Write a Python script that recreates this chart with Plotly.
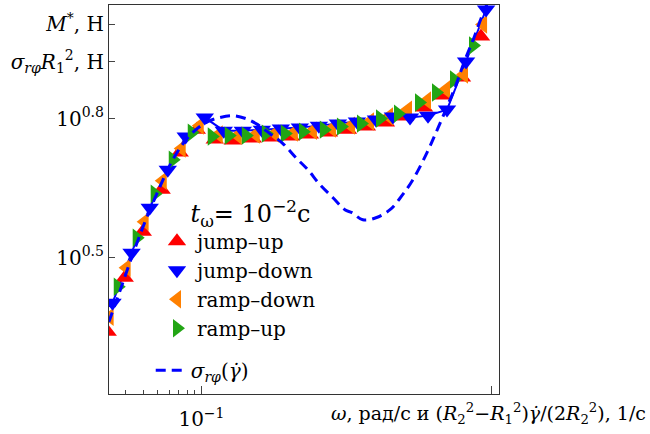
import plotly.graph_objects as go

# --- Daten ---
# jump-up
ju_x = [0.0226, 0.0296, 0.0394, 0.0532, 0.0708, 0.0929, 0.1235, 0.1643, 0.2259, 0.3054, 0.4126,
        0.5585, 0.7551, 1.021, 1.380, 1.866, 2.524, 3.415, 4.613, 6.237, 8.433]
ju_y = [2.188, 2.862, 3.596, 4.433, 5.330, 5.973, 5.685, 5.657, 5.713, 5.741, 5.770,
        5.827, 5.885, 5.973, 6.063, 6.185, 6.373, 6.664, 7.075, 7.737, 9.487]

# jump-down
jd_x = [0.0244, 0.0330, 0.0440, 0.0586, 0.0779, 0.1054, 0.1425, 0.1926, 0.2605, 0.3524, 0.4764,
        0.6442, 0.8710, 1.178, 1.592, 2.085, 2.735, 3.639, 4.920, 6.653, 9.141]
jd_y = [2.527, 3.241, 4.053, 4.895, 5.770, 6.342, 5.943, 5.943, 5.973, 6.003, 6.033,
        6.093, 6.154, 6.216, 6.278, 6.373, 6.342, 6.403, 6.597, 8.378, 10.85]

# ramp-down
rd_x = [0.0233, 0.0305, 0.0406, 0.0541, 0.0731, 0.0973, 0.1316, 0.1778, 0.2368, 0.3206, 0.4331,
        0.5861, 0.7925, 1.072, 1.449, 1.959, 2.649, 3.581, 4.842, 6.442, 8.710]
rd_y = [2.357, 3.008, 3.780, 4.636, 5.437, 6.093, 5.827, 5.798, 5.827, 5.856, 5.885,
        5.943, 6.003, 6.093, 6.216, 6.373, 6.597, 6.900, 7.289, 7.852, 10.07]

# ramp-up
ru_x = [0.0265, 0.0358, 0.0476, 0.0634, 0.0857, 0.1178, 0.1542, 0.2021, 0.2775, 0.3753,
        0.5000, 0.6966, 0.9141, 1.256, 1.698, 2.259, 3.155, 4.131, 5.495, 7.430]
ru_y = [2.736, 3.491, 4.345, 5.146, 5.885, 5.770, 5.798, 5.798, 5.856, 5.856,
        5.914, 5.973, 6.063, 6.154, 6.310, 6.467, 6.832, 7.182, 7.660, 9.073]

# sigma_rphi(gamma dot), Modellkurve
sg_x = [0.0230, 0.0273, 0.0330, 0.0406, 0.0500, 0.0604, 0.0731, 0.0899, 0.1105, 0.1337, 0.1643,
        0.2021, 0.2443, 0.2958, 0.3639, 0.4467, 0.5410, 0.6546, 0.8054, 0.9730, 1.089, 1.294,
        1.592, 1.991, 2.404, 2.864, 3.581, 4.131, 4.764, 5.585, 6.442, 7.551, 8.710, 9.728]
sg_y = [2.299, 2.669, 3.161, 3.761, 4.389, 4.995, 5.519, 5.943, 6.216, 6.342, 6.403,
        6.310, 6.123, 5.856, 5.574, 5.199, 4.895, 4.545, 4.260, 4.013, 3.954, 3.818,
        3.856, 4.013, 4.302, 4.659, 5.330, 5.885, 6.531, 7.362, 8.337, 9.439, 10.64, 11.51]

# Achsenbeschriftungen
y_tickvals = [10 ** 0.5, 10 ** 0.8, 10 ** 0.923, 10 ** 1.003]
y_ticktext = ["10<sup>0.5</sup>", "10<sup>0.8</sup>",
              "<i>σ</i><sub><i>rφ</i></sub><i>R</i><sub>1</sub><sup>2</sup>, Н",
              "<i>M</i><sup>*</sup>, Н"]
x_tickvals = [0.1, 10]
x_ticktext = ["10<sup>−1</sup>", ""]
x_minor = [0.03, 0.04, 0.05, 0.06, 0.07, 0.08, 0.09]

FONT = "DejaVu Serif, Liberation Serif, serif"
MS = 16

fig = go.Figure()

# Verbindungslinie der jump-down Punkte (ohne Legendeneintrag)
fig.add_trace(go.Scatter(x=jd_x, y=jd_y, mode="lines", showlegend=False,
                         line=dict(color="#0000ff", width=2)))
fig.add_trace(go.Scatter(x=ju_x, y=ju_y, mode="markers", name="jump–up", legendrank=1,
                         marker=dict(symbol="triangle-up", size=MS, color="#ff0000")))
fig.add_trace(go.Scatter(x=rd_x, y=rd_y, mode="markers", name="ramp–down", legendrank=3,
                         marker=dict(symbol="triangle-left", size=MS, color="#ff8000")))
fig.add_trace(go.Scatter(x=jd_x, y=jd_y, mode="markers", name="jump–down", legendrank=2,
                         marker=dict(symbol="triangle-down", size=MS, color="#0000ff")))
fig.add_trace(go.Scatter(x=ru_x, y=ru_y, mode="markers", name="ramp–up", legendrank=4,
                         marker=dict(symbol="triangle-right", size=MS, color="#22a514")))
fig.add_trace(go.Scatter(x=sg_x, y=sg_y, mode="lines", legend="legend2",
                         name="<i>σ</i><sub><i>rφ</i></sub>(<i>γ̇</i>)",
                         line=dict(color="#0000ff", width=3, dash="10px,6px", shape="spline")))

fig.update_layout(
    width=650, height=434,
    margin=dict(l=109, r=151, t=5, b=40),
    paper_bgcolor="white", plot_bgcolor="white",
    font=dict(family=FONT, size=20, color="black"),
    showlegend=True,
    legend=dict(
        x=0.123, y=0.523, xanchor="left", yanchor="top",
        bgcolor="rgba(0,0,0,0)",
        title=dict(text="\u00a0\u00a0\u00a0<i>t</i><sub>ω</sub>= 10<sup>−2</sup>с",
                   side="top center"),
        font=dict(size=20),
    ),
    legend2=dict(
        x=0.107, y=0.111, xanchor="left", yanchor="top",
        bgcolor="rgba(0,0,0,0)",
        font=dict(size=20),
    ),
    xaxis=dict(
        type="log", range=[-1.637, 1.05], automargin=False,
        tickvals=x_tickvals, ticktext=x_ticktext, ticklabelstandoff=7,
        ticks="inside", ticklen=8, tickcolor="#444",
        minor=dict(tickvals=x_minor, ticks="inside", ticklen=4, tickcolor="#444"),
        showgrid=False, zeroline=False,
        showline=True, linecolor="#333", linewidth=1.2, mirror=True,
    ),
    yaxis=dict(
        type="log", range=[0.206, 1.045], automargin=False,
        tickvals=y_tickvals, ticktext=y_ticktext,
        ticks="inside", ticklen=6, tickcolor="#444",
        showgrid=False, zeroline=False,
        showline=True, linecolor="#333", linewidth=1.2, mirror=True,
    ),
    annotations=[dict(
        xref="paper", yref="paper", x=1.382, y=-0.049, xanchor="right", yanchor="middle",
        showarrow=False,
        text="<i>ω</i>, рад/с и (<i>R</i><sub>2</sub><sup>2</sup>−<i>R</i><sub>1</sub><sup>2</sup>)"
             "<i>γ̇</i>/(2<i>R</i><sub>2</sub><sup>2</sup>), 1/с",
        font=dict(size=19),
    )],
)

# Seitenrand des Browsers entfernen, damit die Grafik bei (0,0) beginnt
fig.write_html("out.html", config={"displayModeBar": False},
               post_script="document.body.style.margin='0';")
